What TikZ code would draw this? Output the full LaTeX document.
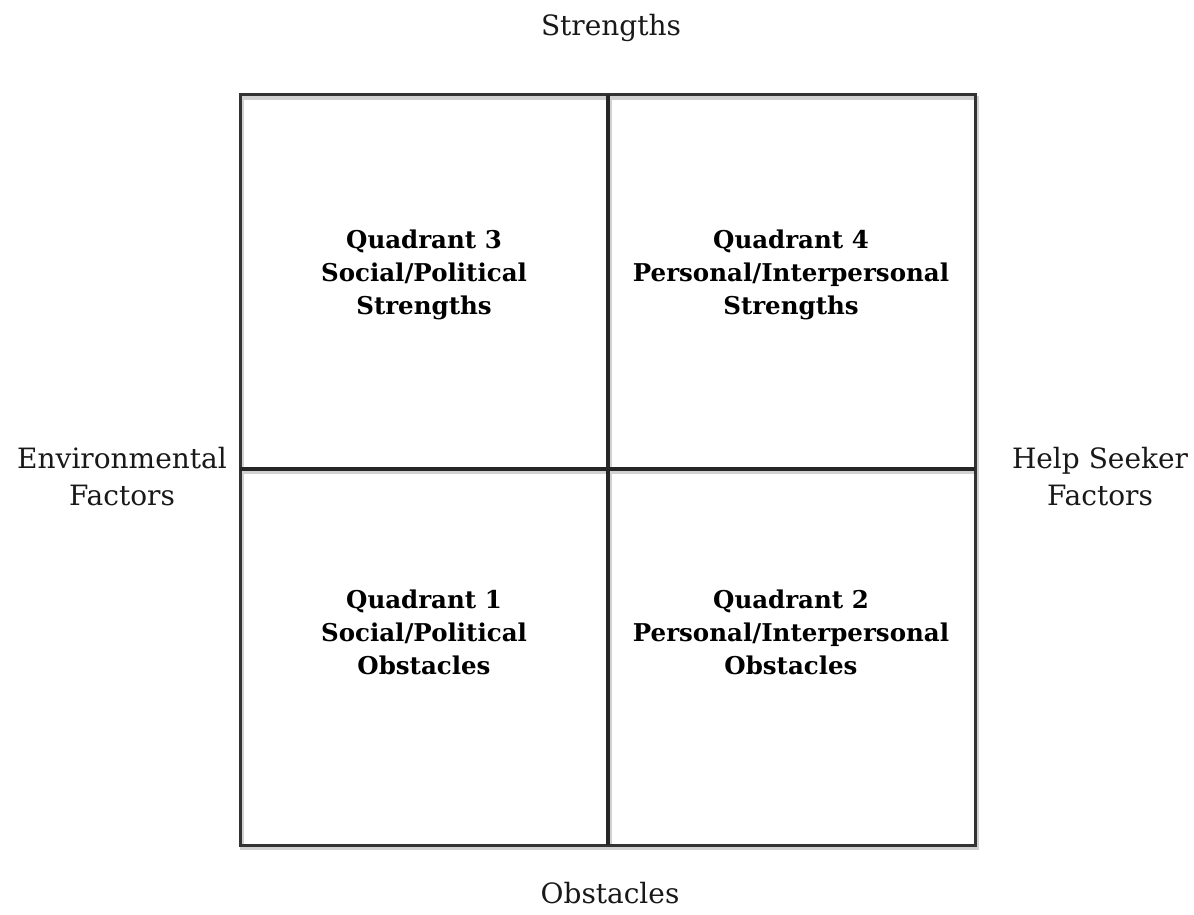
\documentclass[tikz,border=0pt]{standalone}
\usepackage{fontspec}
\setmainfont{DejaVu Serif}
\begin{document}
\begin{tikzpicture}[x=0.5pt,y=-0.5pt,
  axislabel/.style={font=\fontsize{14pt}{18.5pt}\selectfont, align=center, inner sep=0pt, text=black!90},
  quadlabel/.style={font=\fontsize{12.25pt}{16.5pt}\selectfont\bfseries, align=center, inner sep=0pt, text=black},
  frame/.style={draw=black!80, line width=1.5pt},
  divider/.style={draw=black!85, line width=2pt},
  shade/.style={draw=black!18, line width=2pt}]
\useasboundingbox (0,0) rectangle (1194,915);
% soft shadow
\draw[shade] (242,98) -- (977,98) -- (977,848) -- (242,848) -- cycle;
\draw[shade] (243,472) -- (977,472);
\draw[shade] (610,98) -- (610,848);
% frame and dividers
\draw[frame] (240,95) rectangle (975,845);
\draw[divider] (240,469) -- (975,469);
\draw[divider] (608,95) -- (608,845);
% axis labels
\node[axislabel, anchor=base] (top) at (611,36) {Strengths};
\node[axislabel, anchor=base] (bottom) at (610,903) {Obstacles};
\node[axislabel] (left) at (122,477) {Environmental\\Factors};
\node[axislabel] (right) at (1100,477) {Help Seeker\\Factors};
% quadrant labels
\node[quadlabel] (q3) at (424,275) {Quadrant 3\\Social/Political\\Strengths};
\node[quadlabel] (q4) at (791,275) {Quadrant 4\\Personal/Interpersonal\\Strengths};
\node[quadlabel] (q1) at (424,632) {Quadrant 1\\Social/Political\\Obstacles};
\node[quadlabel] (q2) at (791,632) {Quadrant 2\\Personal/Interpersonal\\Obstacles};
\end{tikzpicture}
\end{document}
